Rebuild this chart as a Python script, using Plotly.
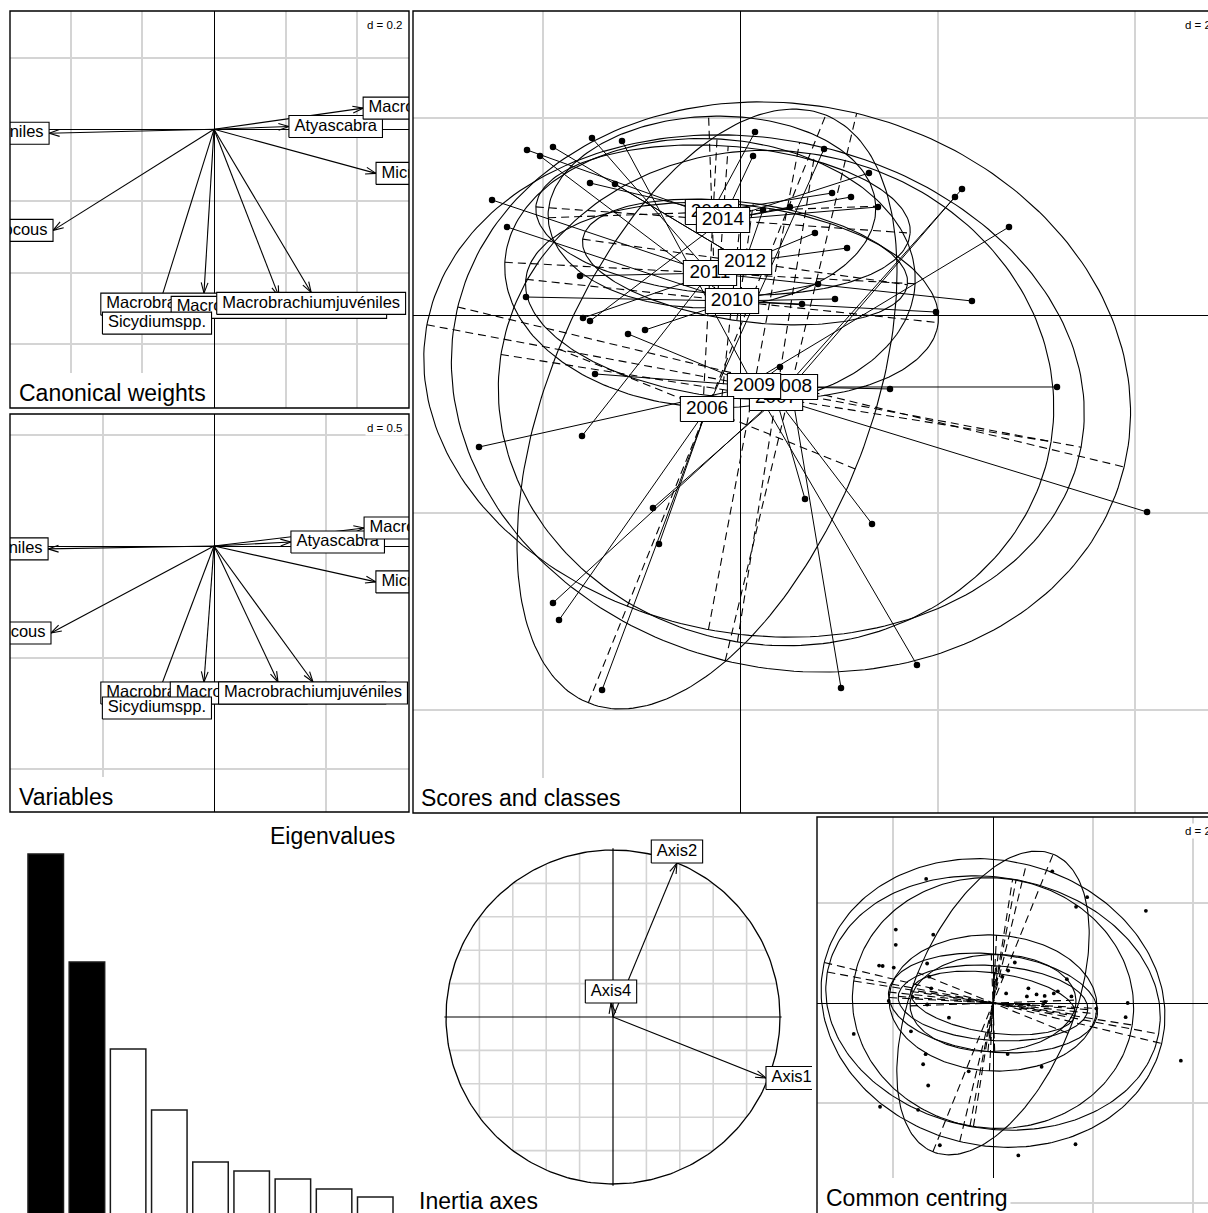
import math
import numpy as np
import plotly.graph_objects as go

# ---------------- data ----------------
# species: canonical weights and correlations with the discriminant axes
species = ["Atyainnocous", "Atyascabra", "Macrobrachiumcrenulatum",
           "Macrobrachiumfaustinum", "Macrobrachiumheterochirus",
           "Macrobrachiumjuvéniles", "Micratyapoeyi", "Sicydiumspp.",
           "Xiphocarisjuvéniles"]
canon_x = [-0.449, 0.209, -0.028, 0.416, 0.181, 0.271, 0.452, -0.159, -0.460]
canon_y = [-0.282, 0.008, -0.457, 0.059, -0.466, -0.455, -0.123, -0.510, -0.011]
var_x = [-0.731, 0.345, -0.045, 0.673, 0.287, 0.444, 0.726, -0.256, -0.744]
var_y = [-0.390, 0.018, -0.610, 0.081, -0.610, -0.610, -0.161, -0.677, -0.013]

# sampling years (factor levels in order of appearance)
years = ["2007", "2008", "2009", "2006", "2010", "2011", "2013", "2012", "2014"]
class_x = [0.365, 0.516, 0.142, -0.334, -0.081, -0.304, -0.284, 0.051, -0.172]
class_y = [-0.841, -0.729, -0.719, -0.952, 0.142, 0.425, 1.043, 0.537, 0.962]
ell_a = [2.82, 3.47, 3.37, 3.21, 2.10, 2.08, 1.66, 1.66, 1.90]
ell_b = [2.50, 2.85, 2.51, 1.62, 0.98, 1.36, 0.97, 0.60, 0.75]
ell_angle = [-9.0, -13.5, -10.6, 68.0, -6.0, -3.0, 2.0, -8.0, -4.0]

# row scores on discriminant axes 1 and 2
score_year = (["2006"] * 5 + ["2007"] * 5 + ["2008"] * 5 + ["2009"] * 6 +
              ["2010"] * 8 + ["2011"] * 5 + ["2012"] * 6 + ["2013"] * 3 +
              ["2014"] * 7)
score_x = [2.724, 0.851, -0.820, -1.833, -1.397,
           2.248, -1.894, 0.658, 1.337, 4.122,
           2.177, 1.519, 3.210, 1.023, -0.881,
           -1.195, -1.134, -1.468, 0.405, -2.643, 1.792,
           -2.025, -2.359, -2.167, -0.962, 0.628, 0.790, 0.962, 1.985,
           -1.499, -2.511, -1.620, 2.349, -1.600,
           -1.894, -1.266, -1.590, 0.233, 0.759, 1.084,
           0.152, -1.519, 0.932,
           -2.157, 0.132, -1.519, 1.306, 1.124, 1.397, 0.506]
score_y = [0.891, 1.681, -2.319, -3.089, -3.797,
           1.276, -2.916, -1.863, -2.116, -1.995,
           1.195, -0.749, -0.729, -3.777, -1.954,
           1.762, -0.192, -0.597, -0.527, -1.337, -3.544,
           1.610, 0.891, 0.182, -0.152, 0.111, 0.314, 0.162, 0.030,
           1.792, 1.165, 0.395, 0.142, -1.225,
           1.701, 1.327, -0.030, 1.063, 0.830, 0.678,
           1.853, 1.337, 1.235,
           1.671, 1.610, -0.061, 1.438, 1.195, 1.094, 1.094]

eigenvalues = [0.724, 0.508, 0.334, 0.212, 0.108, 0.090, 0.074, 0.054, 0.038]
n_axes_kept = 2

inertia_names = ["Axis1", "Axis2", "Axis4"]
inertia_x = [0.916, 0.383, -0.012]
inertia_y = [-0.365, 0.922, 0.084]

# ---------------- page & helpers ----------------
W, H = 1208, 1213
FONT = "Liberation Sans, Arial, sans-serif"
GRID = "#d4d4d4"

ARIAL = {c: 556 for c in "abdeghnopqu0123456789é"}
ARIAL.update({"c": 500, "f": 278, "i": 222, "j": 222, "k": 500, "l": 222,
              "m": 833, "r": 333, "s": 500, "t": 278, "v": 500, "w": 722,
              "x": 500, "y": 500, "z": 500, "A": 667, "C": 722, "M": 833,
              "S": 667, "V": 667, "X": 667, ".": 278, " ": 278, "=": 584})


def text_width(s, size):
    return sum(ARIAL.get(ch, 556) for ch in s) / 1000.0 * size


fig = go.Figure()
title_bg = []
frames = []
annotations = []


class Panel:
    def __init__(self, n, left, top, right, bottom, ox, oy, scale, dtick=None):
        self.s = scale
        suf = "" if n == 1 else str(n)
        self.xa, self.ya = "x" + suf, "y" + suf
        vl, vr = max(left, 0), min(right, W)
        vt, vb = max(top, 0), min(bottom, H)
        base = dict(showticklabels=False, ticks="", fixedrange=True, showline=False)
        if dtick:
            g = dict(showgrid=True, gridcolor=GRID, gridwidth=1.6, tickmode="linear",
                     dtick=dtick, tick0=0, zeroline=True, zerolinecolor="black",
                     zerolinewidth=1.2)
        else:
            g = dict(showgrid=False, zeroline=False)
        fig.update_layout(**{
            "xaxis" + suf: dict(domain=[vl / W, vr / W],
                                range=[(vl - ox) / scale, (vr - ox) / scale],
                                anchor=self.ya, **base, **g),
            "yaxis" + suf: dict(domain=[1 - vb / H, 1 - vt / H],
                                range=[(oy - vb) / scale, (oy - vt) / scale],
                                anchor=self.xa, **base, **g),
        })

    def line(self, xs, ys, color="black", width=1.1, dash=None, fill=None):
        fig.add_trace(go.Scatter(
            x=xs, y=ys, mode="lines", xaxis=self.xa, yaxis=self.ya,
            line=dict(color=color, width=width, dash=dash),
            fill="toself" if fill else None, fillcolor=fill,
            hoverinfo="skip", showlegend=False))

    def text(self, x, y, s, size):
        fig.add_trace(go.Scatter(
            x=[x], y=[y], mode="text", text=[s], textposition="middle center",
            textfont=dict(family=FONT, size=size, color="black"),
            xaxis=self.xa, yaxis=self.ya, hoverinfo="skip", showlegend=False))

    def boxed(self, cx, cy, s, size, pad, bh):
        hw = (text_width(s, size) + pad) / 2 / self.s
        hh = bh / 2 / self.s
        self.line([cx - hw, cx + hw, cx + hw, cx - hw, cx - hw],
                  [cy - hh, cy - hh, cy + hh, cy + hh, cy - hh],
                  width=1.1, fill="white")
        self.text(cx, cy, s, size)

    def arrows(self, xs, ys, head=11, spread=math.radians(18)):
        px, py = [], []
        for x1, y1 in zip(xs, ys):
            phi = math.atan2(y1, x1)
            px += [0, x1, None]
            py += [0, y1, None]
            for sg in (1, -1):
                a = phi + math.pi + sg * spread
                px += [x1, x1 + head * math.cos(a) / self.s, None]
                py += [y1, y1 + head * math.sin(a) / self.s, None]
        self.line(px, py, width=1.1)

    def arrow_labels(self, xs, ys, labels, size, pad, bh):
        # label box sits just outside the arrow tip, on the side it points to
        for x, y, lab in zip(xs, ys, labels):
            bw = (text_width(lab, size) + pad) / self.s
            h = bh / self.s
            if x > y and x > -y:
                cx, cy = x + bw / 2, y
            elif x > y:
                cx, cy = x, y - h / 2
            elif x <= -y:
                cx, cy = x - bw / 2, y
            else:
                cx, cy = x, y + h / 2
            self.boxed(cx, cy, lab, size, pad, bh)


def frame(left, top, right, bottom):
    frames.append(dict(type="rect", xref="paper", yref="paper",
                       x0=left / W, x1=right / W, y0=1 - bottom / H, y1=1 - top / H,
                       line=dict(color="black", width=1.4), layer="above"))


def title(s, left, bottom, backing=True):
    # panel title in the lower-left corner, on a white patch hiding the grid
    cy = min(bottom, H) - 15
    x0 = left + 7
    if backing:
        title_bg.append(dict(type="rect", xref="paper", yref="paper",
                             x0=(left + 0.5) / W, x1=(x0 + text_width(s, 23) + 5) / W,
                             y0=1 - (bottom + 0.5) / H, y1=1 - (cy - 20) / H,
                             line=dict(width=0), fillcolor="white", layer="above"))
    annotations.append(dict(text=s, xref="paper", yref="paper", x=x0 / W,
                            y=1 - cy / H, xanchor="left", yanchor="middle",
                            showarrow=False,
                            font=dict(family=FONT, size=23, color="black")))


def dlabel(s, right, top):
    annotations.append(dict(text=s, xref="paper", yref="paper", x=right / W,
                            y=1 - top / H, xanchor="right", yanchor="top",
                            showarrow=False, bgcolor="white", borderpad=1,
                            font=dict(family=FONT, size=11.5, color="black")))


def ellipse_pts(cx, cy, a, b, ang, n=240):
    t = np.linspace(0, 2 * np.pi, n)
    th = math.radians(ang)
    ex = cx + a * np.cos(t) * math.cos(th) - b * np.sin(t) * math.sin(th)
    ey = cy + a * np.cos(t) * math.sin(th) + b * np.sin(t) * math.cos(th)
    return list(ex), list(ey)


def ellipse_axes(cx, cy, a, b, ang):
    th = math.radians(ang)
    ux, uy = math.cos(th), math.sin(th)
    return ([cx - a * ux, cx + a * ux, None, cx + b * uy, cx - b * uy, None],
            [cy - a * uy, cy + a * uy, None, cy - b * ux, cy + b * ux, None])


def class_plot(p, centred, dot):
    """Ellipses, ellipse axes, points; stars and labels unless centred."""
    cen = dict(zip(years, zip(class_x, class_y)))
    where = {yr: ((0.0, 0.0) if centred else cen[yr]) for yr in years}
    ex, ey, ax, ay = [], [], [], []
    for yr, a, b, ang in zip(years, ell_a, ell_b, ell_angle):
        cx, cy = where[yr]
        x, y = ellipse_pts(cx, cy, a, b, ang)
        ex += x + [None]
        ey += y + [None]
        x, y = ellipse_axes(cx, cy, a, b, ang)
        ax += x
        ay += y
    p.line(ex, ey, width=1.1)
    p.line(ax, ay, width=1.1, dash="8px,5px")
    if centred:
        px = [x - cen[yr][0] for yr, x in zip(score_year, score_x)]
        py = [y - cen[yr][1] for yr, y in zip(score_year, score_y)]
    else:
        sx, sy = [], []
        for yr, x, y in zip(score_year, score_x, score_y):
            sx += [cen[yr][0], x, None]
            sy += [cen[yr][1], y, None]
        p.line(sx, sy, width=1.0)
        px, py = score_x, score_y
    fig.add_trace(go.Scatter(x=px, y=py, mode="markers", xaxis=p.xa, yaxis=p.ya,
                             marker=dict(color="black", size=dot), hoverinfo="skip",
                             showlegend=False))
    if not centred:
        for yr in years:
            p.boxed(cen[yr][0], cen[yr][1], yr, 19, 11, 25)


# ---------------- Canonical weights ----------------
p1 = Panel(1, 10, 11, 409, 408, 214, 129.3, 358.5, dtick=0.2)
p1.arrows(canon_x, canon_y)
p1.arrow_labels(canon_x, canon_y, species, 16.5, 11, 22)
frame(10, 11, 409, 408)
title("Canonical weights", 10, 408)
dlabel("d = 0.2", 405, 17)

# ---------------- Variables ----------------
p2 = Panel(2, 10, 414, 409, 812, 214, 546, 223, dtick=0.5)
p2.arrows(var_x, var_y)
p2.arrow_labels(var_x, var_y, species, 16.5, 11, 22)
frame(10, 414, 409, 812)
title("Variables", 10, 812)
dlabel("d = 0.5", 405, 420)

# ---------------- Scores and classes ----------------
p3 = Panel(3, 413, 11, 1216, 813, 740, 315, 98.75, dtick=2)
class_plot(p3, centred=False, dot=6.5)
frame(413, 11, 1216, 813)
title("Scores and classes", 412, 813)
dlabel("d = 2", 1213, 17)

# ---------------- Eigenvalues ----------------
fig.update_layout(
    xaxis4=dict(domain=[25.15 / W, 395.85 / W], range=[-0.5, 8.5], anchor="y4",
                showgrid=False, zeroline=False, showticklabels=False, ticks="",
                fixedrange=True),
    yaxis4=dict(domain=[0, 1 - 817 / H], range=[0.006, 0.798], anchor="x4",
                showgrid=False, zeroline=False, showticklabels=False, ticks="",
                fixedrange=True))
fig.add_trace(go.Bar(
    x=list(range(len(eigenvalues))), y=eigenvalues, width=0.862,
    xaxis="x4", yaxis="y4", hoverinfo="skip", showlegend=False,
    marker=dict(color=["black" if i < n_axes_kept else "white"
                       for i in range(len(eigenvalues))],
                line=dict(color="#1a1a1a", width=1.5))))
annotations.append(dict(text="Eigenvalues", xref="paper", yref="paper",
                        x=397 / W, y=1 - 836 / H, xanchor="right", yanchor="middle",
                        showarrow=False,
                        font=dict(family=FONT, size=23, color="black")))

# ---------------- Inertia axes (correlation circle) ----------------
p5 = Panel(5, 413, 817, 812, 1213, 613, 1017, 167)
gx, gy = [], []
for v in np.arange(-0.8, 0.81, 0.2):
    if abs(v) < 1e-9:
        continue
    h = math.sqrt(1 - v * v)
    gx += [v, v, None, -h, h, None]
    gy += [-h, h, None, v, v, None]
p5.line(gx, gy, color=GRID, width=1.6)
p5.line([-1.01, 1.01, None, 0, 0], [0, 0, None, -1.01, 1.01], width=1.2)
t = np.linspace(0, 2 * np.pi, 300)
p5.line(list(np.cos(t)), list(np.sin(t)), width=1.3)
p5.arrows(inertia_x, inertia_y)
p5.arrow_labels(inertia_x, inertia_y, inertia_names, 16.5, 11, 23)
annotations.append(dict(text="Inertia axes", xref="paper", yref="paper",
                        x=417 / W, y=1 - 1201 / H, xanchor="left", yanchor="middle",
                        showarrow=False,
                        font=dict(family=FONT, size=23, color="black")))

# ---------------- Common centring ----------------
p6 = Panel(6, 817, 817, 1216, 1216, 993, 1003, 50, dtick=2)
class_plot(p6, centred=True, dot=3.8)
frame(817, 817, 1216, 1216)
title("Common centring", 817, 1214)
dlabel("d = 2", 1213, 823)

fig.update_layout(width=W, height=H, margin=dict(l=0, r=0, t=0, b=0),
                  paper_bgcolor="white", plot_bgcolor="white", showlegend=False,
                  shapes=title_bg + frames, annotations=annotations, bargap=0.14,
                  font=dict(family=FONT))
fig.write_html("out.html", config={"displayModeBar": False})
